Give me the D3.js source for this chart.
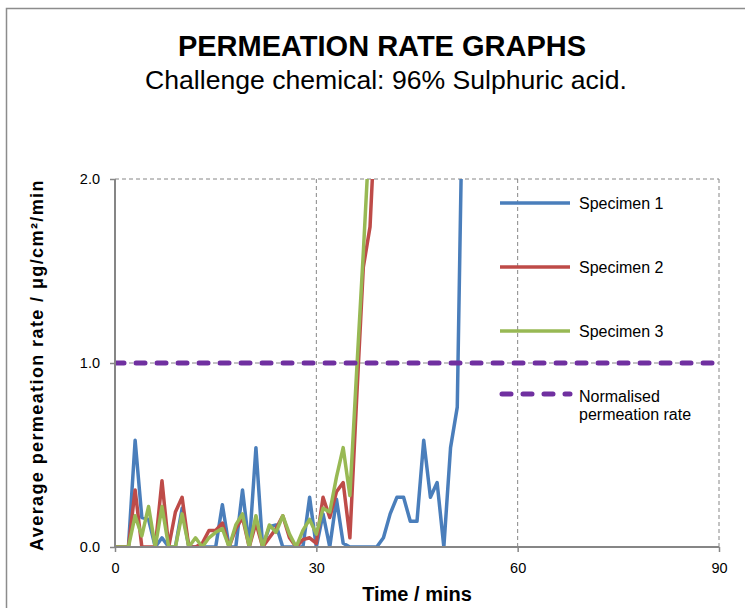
<!DOCTYPE html>
<html>
<head>
<meta charset="utf-8">
<script src="https://cdn.jsdelivr.net/npm/d3@7"></script>
<style>
  body { margin: 0; background: #fff; }
  svg { display: block; font-family: "Liberation Sans", Arial, sans-serif; }
</style>
</head>
<body>
<svg id="chart" width="745" height="608"></svg>
<script>
// ---- Data (time in minutes, 1-minute steps) ----
const specimen1 = [0,0,0,0.58,0.16,0.15,0,0.05,0,0,0.21,0,0,0,0,0,0.23,0,0,0.31,0,0.54,0,0.11,0.12,0,0,0,0,0.27,0,0.18,0,0.26,0.02,0,0,0,0,0,0.05,0.18,0.27,0.27,0.14,0.14,0.58,0.27,0.35,0,0.54,0.76,2.95];
const specimen2 = [0,0,0,0.31,0,0,0,0.36,0,0.19,0.27,0,0,0.02,0.09,0.09,0.13,0,0.1,0.16,0,0.13,0,0.05,0.1,0.17,0.05,0,0.04,0.05,0.02,0.27,0.16,0.3,0.35,0.05,0.8,1.52,1.74,2.5];
const specimen3 = [0,0,0,0.17,0.06,0.22,0,0.22,0,0,0.18,0,0.05,0,0.05,0.08,0.1,0,0.12,0.18,0,0.17,0,0.12,0.08,0.17,0.07,0,0.09,0.15,0.07,0.21,0.19,0.38,0.54,0.28,0.95,1.6,2.3];
const normalisedRate = 1.0;
const seriesNames = ["Specimen 1", "Specimen 2", "Specimen 3"];
const legendNormalised = ["Normalised", "permeation rate"];
const xTicks = [0, 30, 60, 90];
const yTicks = [0, 1, 2];

(function () {
const colors = ["#4A7EBB", "#BE4B48", "#98B954"];
const purple = "#7030A0";
const gridGray = "#868686";

const svg = d3.select("#chart");
const pLeft = 115, pRight = 719, pTop = 179, pBottom = 547;

const x = d3.scaleLinear().domain([0, 90]).range([pLeft, pRight]);
const y = d3.scaleLinear().domain([0, 2]).range([pBottom, pTop]);

// outer frame
svg.append("rect").attr("x", 6.5).attr("y", 8.5).attr("width", 760).attr("height", 640)
  .attr("fill", "none").attr("stroke", "#8c8c8c").attr("stroke-width", 1.5);

// titles
svg.append("text").attr("x", 382).attr("y", 56).attr("text-anchor", "middle")
  .attr("font-size", 29).attr("font-weight", "bold").attr("fill", "#000")
  .text("PERMEATION RATE GRAPHS");
svg.append("text").attr("x", 386).attr("y", 89).attr("text-anchor", "middle")
  .attr("font-size", 26.6).attr("fill", "#000")
  .text("Challenge chemical: 96% Sulphuric acid.");

// gridlines
const grid = svg.append("g");
grid.selectAll("line.v").data(xTicks.filter(d => d > 0)).join("line")
  .attr("x1", d => x(d)).attr("x2", d => x(d)).attr("y1", pTop).attr("y2", pBottom)
  .attr("stroke", gridGray).attr("stroke-width", 1).attr("stroke-dasharray", "4,3");
grid.selectAll("line.h").data(yTicks.filter(d => d > 0)).join("line")
  .attr("x1", pLeft).attr("x2", pRight).attr("y1", d => y(d)).attr("y2", d => y(d))
  .attr("stroke", gridGray).attr("stroke-width", 1).attr("stroke-dasharray", "4,3");

// clip
svg.append("clipPath").attr("id", "plotclip").append("rect")
  .attr("x", pLeft).attr("y", pTop).attr("width", pRight - pLeft).attr("height", pBottom - pTop);

const line = d3.line().x((d, i) => x(i)).y(d => y(d));
const plot = svg.append("g").attr("clip-path", "url(#plotclip)");
[specimen1, specimen2, specimen3].forEach((s, k) => {
  plot.append("path").datum(s).attr("d", line)
    .attr("fill", "none").attr("stroke", colors[k]).attr("stroke-width", 3.5)
    .attr("stroke-linejoin", "round");
});
// normalised rate
plot.append("line").attr("x1", pLeft).attr("x2", pRight)
  .attr("y1", y(normalisedRate)).attr("y2", y(normalisedRate))
  .attr("stroke", purple).attr("stroke-width", 5).attr("stroke-linecap", "round")
  .attr("stroke-dasharray", "9,12");

// axes (drawn over the series)
const yAxis = d3.axisLeft(y).tickValues(yTicks).tickFormat(d3.format(".1f"))
  .tickSize(5).tickPadding(10);
const gy = svg.append("g").attr("transform", `translate(${pLeft},0)`).call(yAxis);
const xAxis = d3.axisBottom(x).tickValues(xTicks).tickSize(5).tickPadding(11);
const gx = svg.append("g").attr("transform", `translate(0,${pBottom})`).call(xAxis);
[gx, gy].forEach(g => {
  g.select(".domain").attr("stroke", gridGray).attr("stroke-width", 2);
  g.selectAll(".tick line").attr("stroke", gridGray).attr("stroke-width", 1.5);
  g.selectAll(".tick text").attr("font-size", 14.5).attr("fill", "#000")
    .attr("font-family", "Liberation Sans, Arial, sans-serif");
});
gy.select(".domain").attr("d", `M0,${pBottom}V${pTop}`);
gx.select(".domain").attr("d", `M${pLeft},0H${pRight}`);

// legend
const legend = svg.append("g");
const legY = [203, 267, 331];
seriesNames.forEach((n, k) => {
  legend.append("line").attr("x1", 500).attr("x2", 570).attr("y1", legY[k]).attr("y2", legY[k])
    .attr("stroke", colors[k]).attr("stroke-width", 3.5);
  legend.append("text").attr("x", 579).attr("y", legY[k] + 5.5).attr("font-size", 16)
    .attr("fill", "#000").text(n);
});
legend.append("line").attr("x1", 502).attr("x2", 570).attr("y1", 394).attr("y2", 394)
  .attr("stroke", purple).attr("stroke-width", 5).attr("stroke-linecap", "round")
  .attr("stroke-dasharray", "9,12");
legendNormalised.forEach((t, i) => {
  legend.append("text").attr("x", 579).attr("y", 401.5 + i * 18.5).attr("font-size", 16)
    .attr("fill", "#000").text(t);
});

// axis titles
svg.append("text").attr("x", 417).attr("y", 601).attr("text-anchor", "middle")
  .attr("font-size", 20).attr("font-weight", "bold").attr("fill", "#000")
  .text("Time / mins");
svg.append("text").attr("transform", "translate(43,365) rotate(-90)")
  .attr("text-anchor", "middle").attr("font-size", 18).attr("font-weight", "bold")
  .attr("letter-spacing", 1.4).attr("fill", "#000")
  .text("Average permeation rate / μg/cm²/min");
})();
</script>
</body>
</html>
